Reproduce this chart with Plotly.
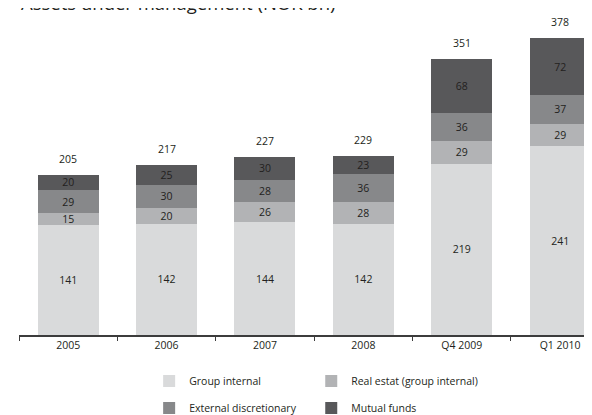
import plotly.graph_objects as go

# data (NOK bn)
categories = ["2005", "2006", "2007", "2008", "Q4 2009", "Q1 2010"]
group_internal = [141, 142, 144, 142, 219, 241]
real_estate = [15, 20, 26, 28, 29, 29]
external_discretionary = [29, 30, 28, 36, 36, 37]
mutual_funds = [20, 25, 30, 23, 68, 72]
totals = [205, 217, 227, 229, 351, 378]

series = [
    ("Group internal", group_internal, "#d9dadb", "legend"),
    ("Real estat (group internal)", real_estate, "#b2b3b5", "legend2"),
    ("External discretionary", external_discretionary, "#87888a", "legend3"),
    ("Mutual funds", mutual_funds, "#58585a", "legend4"),
]

FONT = "Open Sans"
TXT = "#231f20"

fig = go.Figure()
for name, vals, col, leg in series:
    fig.add_trace(go.Bar(
        x=categories, y=vals, name=name,
        marker=dict(color=col, line=dict(width=0)),
        text=vals, textposition="inside", insidetextanchor="middle",
        constraintext="none", textangle=0,
        textfont=dict(family=FONT, size=10.5, color=TXT),
        width=0.62, legend=leg,
    ))

# totals above each stack (x given as category index, "2005" would be read as a number)
stack_top = [a + b + c + d for a, b, c, d in zip(group_internal, real_estate,
                                                  external_discretionary, mutual_funds)]
annotations = []
for i, (top, tot) in enumerate(zip(stack_top, totals)):
    annotations.append(dict(
        x=i, y=top, text=str(tot), showarrow=False,
        yanchor="middle", yshift=16,
        font=dict(family=FONT, size=10.5, color=TXT),
    ))

annotations.append(dict(
    xref="paper", yref="paper", x=0, y=1, xanchor="left", yanchor="bottom",
    xshift=0, yshift=1,
    text="Assets under management (NOK bn)", showarrow=False,
    font=dict(family=FONT, size=18.5, color=TXT),
))

# one small legend per entry so the 2x2 grid can be placed like the original
legend_style = dict(
    orientation="h", xanchor="left", yanchor="middle",
    font=dict(family=FONT, size=10.5, color=TXT), bgcolor="rgba(0,0,0,0)",
)
col1, col2 = 0.224, 0.503
row1, row2 = -0.145, -0.23

fig.update_layout(
    width=592, height=415,
    margin=dict(l=11, r=0, t=10, b=81),
    paper_bgcolor="white", plot_bgcolor="white",
    barmode="stack", bargap=0.38,
    font=dict(family=FONT, size=11, color=TXT),
    annotations=annotations,
    xaxis=dict(
        type="category",
        range=[-0.5, 5.405], showline=True, linecolor="#3c3c3c", linewidth=1.5,
        ticks="outside", tickson="boundaries", ticklen=4, tickcolor="#3c3c3c",
        tickwidth=1, showgrid=False, zeroline=False,
        tickfont=dict(family=FONT, size=10.5, color=TXT),
    ),
    yaxis=dict(range=[0, 405], visible=False, showgrid=False, zeroline=False),
    legend=dict(legend_style, x=col1, y=row1),
    legend2=dict(legend_style, x=col2, y=row1),
    legend3=dict(legend_style, x=col1, y=row2),
    legend4=dict(legend_style, x=col2, y=row2),
    showlegend=True,
)

fig.write_html("out.html")
